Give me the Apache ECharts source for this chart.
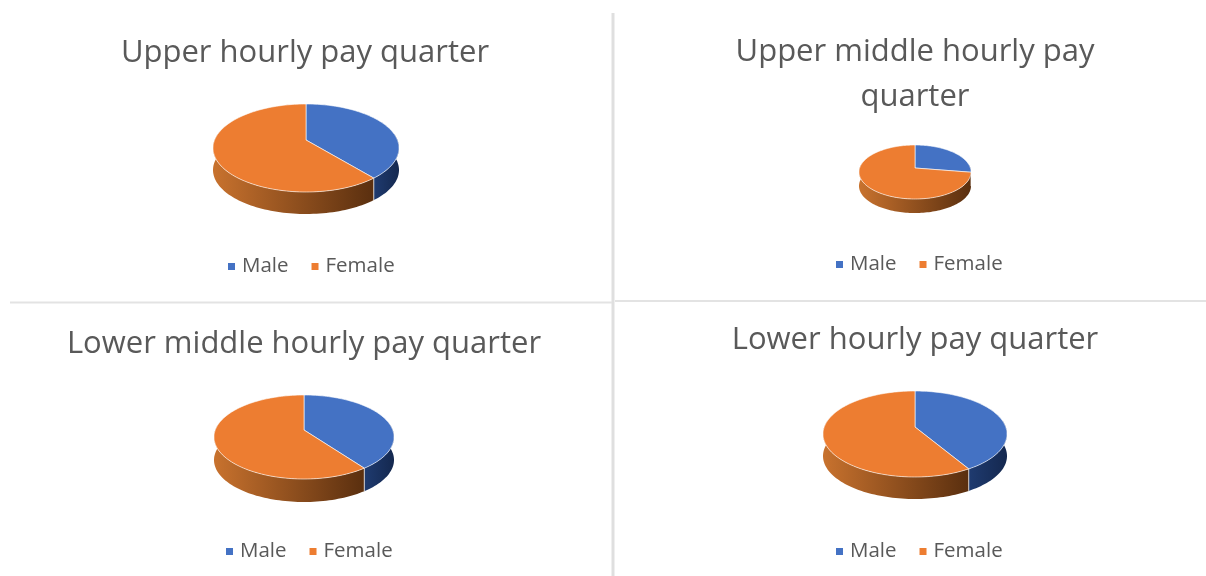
<!DOCTYPE html>
<html>
<head>
<meta charset="utf-8">
<title>Hourly pay quarters</title>
<script src="https://cdn.jsdelivr.net/npm/echarts@6/dist/echarts.min.js"></script>
<style>
  html, body { margin: 0; padding: 0; background: #fff; }
  #main { width: 1206px; height: 576px; filter: blur(0.55px); }
</style>
</head>
<body>
<div id="main"></div>
<script>
  // values
  const quarters = ['Upper hourly pay quarter', 'Upper middle hourly pay\nquarter', 'Lower middle hourly pay quarter', 'Lower hourly pay quarter'];
  const seriesNames = ['Male', 'Female'];
  const maleShare = [39, 27.5, 40, 41.5];
  const femaleShare = [61, 72.5, 60, 58.5];

  // where each pie sits: pivot, half width, back and front reach of the top face, wall height
  const pies = [
    { x: 306, y: 140, rx: 93, back: 36, front: 52, depth: 22 },
    { x: 915, y: 168, rx: 56, back: 23, front: 31, depth: 14 },
    { x: 304, y: 430, rx: 90, back: 35, front: 49, depth: 23 },
    { x: 915, y: 427, rx: 92, back: 36, front: 50, depth: 22 }
  ];
  const titlePos = [[305, 31], [915, 30], [304, 322], [915, 318]];
  const legendPos = [[228, 256], [836, 254], [226, 541], [836, 541]];

  const topColors = ['#4472c4', '#ed7d31'];
  const wallColors = [['#1f3b70', '#14284f'], ['#c8722e', '#5a2f0f']];

  // tilted circle: angle is clockwise from the back of the pie
  function project(p, a) {
    const k = (p.back - p.front) / (p.back + p.front);
    const b = p.front * (1 + k);
    const w = Math.sqrt(1 - k * k);
    const u = Math.sin(a), v = -Math.cos(a);
    const d = 1 + k * v;
    return [p.x + p.rx * w * u / d, p.y + b * v / d];
  }

  function slicePoints(p, from, to) {
    const pts = [];
    const steps = Math.max(2, Math.ceil((to - from) / 0.03));
    for (let i = 0; i <= steps; i++) {
      pts.push(project(p, from + (to - from) * i / steps));
    }
    return pts;
  }

  function renderSlice(params, api) {
    const pieIdx = api.value(0);
    const kind = api.value(1);
    const total = maleShare[pieIdx] + femaleShare[pieIdx];
    const from = kind === 0 ? 0 : api.value(2) / total * Math.PI * 2;
    const to = from + (kind === 0 ? api.value(2) : api.value(3)) / total * Math.PI * 2;
    const p = pies[pieIdx];
    const arc = slicePoints(p, from, to);

    // only the front of the wall can be seen
    const wallFrom = Math.max(from, Math.PI * 0.45);
    const wallTo = Math.min(to, Math.PI * 1.55);
    const children = [];
    if (wallTo > wallFrom) {
      const edge = slicePoints(p, wallFrom, wallTo);
      const low = edge.map(q => [q[0], q[1] + p.depth]).reverse();
      const xs = edge.map(q => q[0]);
      const gradient = new echarts.graphic.LinearGradient(
        Math.min.apply(null, xs), 0, Math.max.apply(null, xs), 0,
        [{ offset: 0, color: wallColors[kind][0] }, { offset: 1, color: wallColors[kind][1] }],
        true
      );
      children.push({ type: 'polygon', shape: { points: edge.concat(low) }, style: { fill: gradient } });
      if (kind === 1) {
        const start = edge[0];
        children.push({
          type: 'line',
          shape: { x1: start[0], y1: start[1], x2: start[0], y2: start[1] + p.depth },
          style: { stroke: 'rgba(255,255,255,0.7)', lineWidth: 1 }
        });
      }
    }
    children.push({
      type: 'polygon',
      shape: { points: [[p.x, p.y]].concat(arc) },
      style: { fill: topColors[kind], stroke: 'rgba(255,255,255,0.6)', lineWidth: 1 }
    });
    return { type: 'group', children: children };
  }

  const chart = echarts.init(document.getElementById('main'));
  const font = '"Open Sans", sans-serif';

  const series = [];
  quarters.forEach((q, i) => {
    seriesNames.forEach((name, kind) => {
      series.push({
        type: 'custom',
        name: name,
        coordinateSystem: 'none',
        silent: true,
        renderItem: renderSlice,
        itemStyle: { color: topColors[kind] },
        data: [[i, kind, maleShare[i], femaleShare[i]]]
      });
    });
  });

  const option = {
    animation: false,
    backgroundColor: '#fff',
    title: quarters.map((q, i) => ({
      text: q,
      left: titlePos[i][0],
      top: titlePos[i][1],
      textAlign: 'center',
      padding: 0,
      textStyle: { fontFamily: font, fontSize: 31, fontWeight: 'normal', color: '#595959', lineHeight: 45 }
    })),
    legend: legendPos.map(pos => ({
      data: seriesNames,
      left: pos[0],
      top: pos[1],
      padding: 0,
      icon: 'rect',
      itemWidth: 7,
      itemHeight: 7,
      itemGap: 23,
      selectedMode: false,
      textStyle: { fontFamily: font, fontSize: 20.5, color: '#595959', padding: [0, 0, 0, 2] }
    })),
    graphic: [
      { type: 'line', shape: { x1: 613, y1: 13, x2: 613, y2: 576 }, style: { stroke: '#dfdfdf', lineWidth: 3 } },
      { type: 'line', shape: { x1: 10, y1: 302.5, x2: 612, y2: 302.5 }, style: { stroke: '#e3e3e3', lineWidth: 2 } },
      { type: 'line', shape: { x1: 615, y1: 301, x2: 1206, y2: 301 }, style: { stroke: '#e3e3e3', lineWidth: 2 } }
    ],
    series: series
  };
  chart.setOption(option);
</script>
</body>
</html>
